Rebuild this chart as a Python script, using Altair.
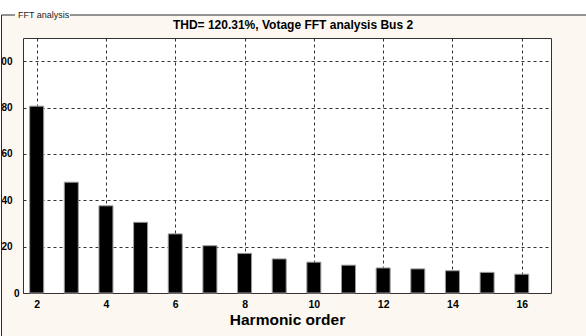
import altair as alt
import pandas as pd

# Harmonic spectrum of the bus voltage (percent of fundamental)
harmonics = [2, 3, 4, 5, 6, 7, 8, 9, 10, 11, 12, 13, 14, 15, 16]
magnitudes = [80.6, 47.8, 37.6, 30.5, 25.5, 20.4, 17.1, 14.7, 13.3, 12.0, 10.8, 10.4, 9.6, 8.9, 8.1]
x_ticks = [2, 4, 6, 8, 10, 12, 14, 16]
y_ticks = [0, 20, 40, 60, 80, 100]

title_text = "THD= 120.31%, Votage FFT analysis Bus 2"
group_label = "FFT analysis"

FONT = "Liberation Sans"
CREAM = "#FCF8F1"
EDGE = "#2a2a2a"

df = pd.DataFrame({"harmonic": harmonics, "magnitude": magnitudes})
one = alt.Data(values=[{}])

bars = alt.Chart(df).mark_bar(
    size=14, color="black", stroke="#9c9c9c", strokeWidth=1
).encode(
    x=alt.X(
        "harmonic:Q",
        scale=alt.Scale(domain=[1.75, 16.7], nice=False, zero=False),
        axis=alt.Axis(
            values=x_ticks,
            title="Harmonic order",
            titleFont=FONT,
            titleFontSize=15.5,
            titleFontWeight="bold",
            titleColor="black",
            titlePadding=3,
            labelFont=FONT,
            labelFontSize=10.5,
            labelFontWeight="bold",
            labelColor="black",
            labelPadding=6,
            ticks=False,
            domain=False,
            grid=True,
            gridColor="#333333",
            gridDash=[3, 3],
            gridWidth=1,
            labelFlush=False,
        ),
    ),
    y=alt.Y(
        "magnitude:Q",
        scale=alt.Scale(domain=[0, 110], nice=False),
        axis=alt.Axis(
            values=y_ticks,
            title=None,
            labelFont=FONT,
            labelFontSize=10,
            labelFontWeight="bold",
            labelColor="black",
            labelAlign="right",
            labelBaseline="middle",
            labelPadding={"condition": {"test": "datum.value == 0", "value": 4}, "value": 11},
            ticks=False,
            domain=False,
            grid=True,
            gridColor="#333333",
            gridDash=[3, 3],
            gridWidth=1,
            labelFlush=False,
        ),
    ),
)

# White margin outside the group box (top strip and thin left strip)
top_strip = alt.Chart(one).mark_rect(color="white").encode(
    x=alt.value(-23), x2=alt.value(563), y=alt.value(-38), y2=alt.value(-23)
)
left_strip = alt.Chart(one).mark_rect(color="white").encode(
    x=alt.value(-23), x2=alt.value(-22), y=alt.value(-23), y2=alt.value(298)
)

# Group box outline with its caption
box_top_a = alt.Chart(one).mark_rule(color=EDGE, strokeWidth=1).encode(
    x=alt.value(-21.5), x2=alt.value(-8), y=alt.value(-23)
)
box_top_b = alt.Chart(one).mark_rule(color=EDGE, strokeWidth=1).encode(
    x=alt.value(47), x2=alt.value(563), y=alt.value(-23)
)
box_left = alt.Chart(one).mark_rule(color=EDGE, strokeWidth=1).encode(
    x=alt.value(-21.5), y=alt.value(-23), y2=alt.value(298)
)
box_caption = alt.Chart(one).mark_text(
    font=FONT, fontSize=9, align="left", baseline="middle", color="#222222"
).encode(x=alt.value(-5), y=alt.value(-23), text=alt.value(group_label))

# Chart heading, centred in the title band above the plot frame
heading = alt.Chart(one).mark_text(
    font=FONT, fontSize=12, fontWeight="bold", align="center",
    baseline="alphabetic", color="black"
).encode(x=alt.value(270), y=alt.value(-9), text=alt.value(title_text))

chart = alt.layer(
    top_strip, left_strip, box_top_a, box_top_b, box_left, box_caption, heading, bars
).properties(
    width=528,
    height=255,
    autosize=alt.AutoSizeParams(type="none"),
    padding={"left": 23, "top": 38, "right": 35, "bottom": 43},
).configure(
    background=CREAM,
).configure_view(
    fill="white", stroke="#333333", strokeWidth=1
)

chart.save("out.html", embed_options={"renderer": "svg", "actions": False})
